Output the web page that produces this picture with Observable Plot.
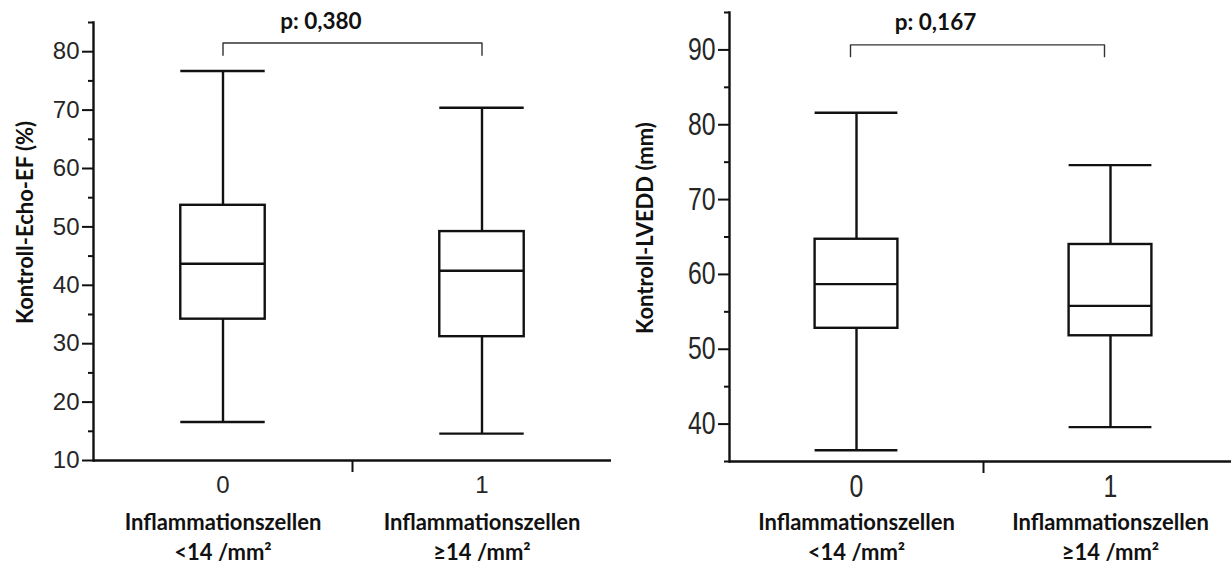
<!DOCTYPE html>
<html>
<head>
<meta charset="utf-8">
<script src="https://cdn.jsdelivr.net/npm/d3@7"></script>
<script src="https://cdn.jsdelivr.net/npm/@observablehq/plot@0.6"></script>
<style>
  html, body { margin: 0; padding: 0; background: #fff; }
  #wrap { position: relative; width: 1231px; height: 567px; overflow: hidden; background: #fff; }
  #left { position: absolute; left: 0; top: 0; }
  #right { position: absolute; left: 620px; top: 0; }
  svg { overflow: visible; }
</style>
</head>
<body>
<div id="wrap"><div id="left"></div><div id="right"></div></div>
<script>
// ---- data ----
const groups = [0, 1];
const groupLabels = ["Inflammationszellen\n<14 /mm²", "Inflammationszellen\n≥14 /mm²"];

// Kontroll-Echo-EF (%)
const efMin    = [16.6, 14.6];
const efQ1     = [34.2, 31.2];
const efMedian = [43.7, 42.5];
const efQ3     = [53.7, 49.2];
const efMax    = [76.7, 70.4];
const efMajorTicks = [10, 20, 30, 40, 50, 60, 70, 80];
const efMinorTicks = [15, 25, 35, 45, 55, 65, 75, 85];

// Kontroll-LVEDD (mm)
const lvMin    = [36.5, 39.6];
const lvQ1     = [52.8, 51.8];
const lvMedian = [58.7, 55.8];
const lvQ3     = [64.7, 64.0];
const lvMax    = [81.6, 74.6];
const lvMajorTicks = [40, 50, 60, 70, 80, 90];
const lvMinorTicks = [35, 45, 55, 65, 75, 85, 95];

const yTitles = ["Kontroll-Echo-EF (%)", "Kontroll-LVEDD (mm)"];
const pLabels = ["p: 0,380", "p: 0,167"];

// ---- drawing ----
const BOLD = {fontFamily: "Lato, 'Open Sans', sans-serif", fontWeight: 700, fontSize: 22, fill: "#111"};

function panel(o) {
  const rows = groups.map((g, i) => ({g, lo: o.min[i], q1: o.q1[i], med: o.med[i], q3: o.q3[i], hi: o.max[i], label: groupLabels[i]}));
  const hw = 0.163;
  const ln = {stroke: "#111", strokeWidth: 2.4};
  const tickText = {fontFamily: "'Liberation Sans', Arial, sans-serif", fontSize: o.tickSize, fill: "#262626", className: "ticklab"};
  const bracket = [
    {x: groups[0], y: o.bracketHook}, {x: groups[0], y: o.bracketTop},
    {x: groups[1], y: o.bracketTop}, {x: groups[1], y: o.bracketHook}
  ];
  const svg = Plot.plot({
    width: o.width, height: 567,
    marginLeft: o.marginLeft, marginRight: o.marginRight, marginTop: o.marginTop, marginBottom: o.marginBottom,
    x: {domain: [-0.5, 1.5], range: o.xRange, axis: null},
    y: {domain: o.yDomain, axis: null},
    style: {background: "white", overflow: "visible", color: "#111"},
    marks: [
      Plot.axisY({ticks: o.minor, tickSize: 5, tickFormat: () => "", strokeWidth: 2}),
      Plot.axisY({ticks: o.major, tickSize: 11, tickPadding: 3, tickFormat: d => String(d), strokeWidth: 2, ...tickText}),
      Plot.axisX({ticks: [0.5], tickSize: 12, tickFormat: () => "", strokeWidth: 2}),
      Plot.axisX({ticks: groups, tickSize: 0, tickPadding: o.xTickPad, tickFormat: d => String(d), ...tickText}),
      Plot.frame({anchor: "left", strokeWidth: 2.4, stroke: "#111"}),
      Plot.ruleY([o.yDomain[0]], {strokeWidth: 2.4, stroke: "#111"}),
      Plot.ruleX(rows, {x: "g", y1: "lo", y2: "q1", ...ln}),
      Plot.ruleX(rows, {x: "g", y1: "q3", y2: "hi", ...ln}),
      Plot.ruleY(rows, {y: "lo", x1: d => d.g - hw, x2: d => d.g + hw, ...ln}),
      Plot.ruleY(rows, {y: "hi", x1: d => d.g - hw, x2: d => d.g + hw, ...ln}),
      Plot.rect(rows, {x1: d => d.g - hw, x2: d => d.g + hw, y1: "q1", y2: "q3", fill: "white", ...ln}),
      Plot.ruleY(rows, {y: "med", x1: d => d.g - hw, x2: d => d.g + hw, ...ln}),
      Plot.line(bracket, {x: "x", y: "y", stroke: "#333", strokeWidth: 1.4, dx: o.bracketDx}),
      Plot.text([o.p], {x: o.pX, y: o.pY, text: d => d, ...BOLD, fontSize: 22.5}),
      Plot.text(rows, {x: "g", text: "label", frameAnchor: "bottom", dy: o.labelDy, lineAnchor: "top", lineHeight: 1.34, ...BOLD}),
      Plot.text([o.title], {frameAnchor: "left", text: d => d, textAnchor: "middle", dx: 25 - o.marginLeft, dy: o.titleDy, rotate: -90, ...BOLD})
    ]
  });
  // condensed look of tick labels (horizontal squeeze around each label's anchor)
  if (o.squeeze !== 1) {
    svg.querySelectorAll(".ticklab text").forEach(t => {
      const tr = t.getAttribute("transform") || "";
      t.setAttribute("transform", tr + ` scale(${o.squeeze},1)`);
    });
  }
  return svg;
}

document.getElementById("left").append(panel({
  width: 620, marginLeft: 93, marginRight: 9, marginTop: 22, marginBottom: 107,
  xRange: [93, 611], yDomain: [10, 85],
  major: efMajorTicks, minor: efMinorTicks,
  min: efMin, q1: efQ1, med: efMedian, q3: efQ3, max: efMax,
  tickSize: 24, squeeze: 1, xTickPad: 15,
  bracketTop: 81.5, bracketHook: 79.4, bracketDx: 0,
  p: pLabels[0], pX: 0.378, pY: 85.2,
  labelDy: 49, title: yTitles[0], titleDy: -19
}));

document.getElementById("right").append(panel({
  width: 611, marginLeft: 109, marginRight: 0, marginTop: 12, marginBottom: 106,
  xRange: [109, 617], yDomain: [35, 95],
  major: lvMajorTicks, minor: lvMinorTicks,
  min: lvMin, q1: lvQ1, med: lvMedian, q3: lvQ3, max: lvMax,
  tickSize: 31, squeeze: 0.8, xTickPad: 13,
  bracketTop: 90.67, bracketHook: 89.1, bracketDx: -6,
  p: pLabels[1], pX: 0.311, pY: 93.6,
  labelDy: 48, title: yTitles[1], titleDy: -9
}));
</script>
</body>
</html>
